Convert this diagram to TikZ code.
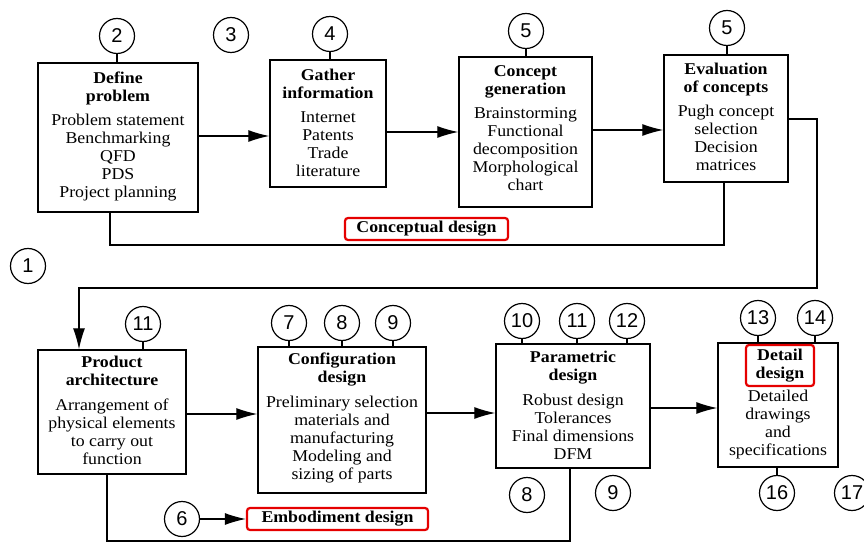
\documentclass[tikz,border=0pt]{standalone}
\usepackage{fontspec}
\setmainfont{Liberation Serif}[FakeStretch=1.08]
\setsansfont{Liberation Sans}
\usetikzlibrary{arrows.meta}
\begin{document}
\begin{tikzpicture}[x=1pt,y=-1pt,
  blk/.style={draw, line width=1.4pt, rectangle, inner sep=0pt},
  btxt/.style={anchor=north, align=center, inner sep=0pt, font=\fontsize{16.5}{18}\selectfont},
  num/.style={draw, circle, line width=1.2pt, minimum size=35pt, inner sep=0pt, font=\fontsize{20}{20}\sffamily},
  ln/.style={line width=1.2pt},
  arr/.style={line width=1.2pt, -{Latex[length=21pt,width=12pt]}},
  redbox/.style={draw=red!90!black, line width=2.2pt, rounded corners=3pt, align=center, inner sep=0pt, font=\fontsize{16.5}{18}\selectfont\bfseries}]
\useasboundingbox (0,0) rectangle (864,545);
% ---- top row boxes
\node[blk, minimum width=160pt, minimum height=149pt] (define) at (118,137.5) {};
\node[btxt] (definet) at (118,72) {\textbf{Define}\\\textbf{problem}\\[6pt]Problem statement\\Benchmarking\\QFD\\PDS\\Project planning};
\node[blk, minimum width=116pt, minimum height=127pt] (gather) at (328,123.5) {};
\node[btxt] (gathert) at (328,69) {\textbf{Gather}\\\textbf{information}\\[6pt]Internet\\Patents\\Trade\\literature};
\node[blk, minimum width=133pt, minimum height=150pt] (concept) at (525.5,132) {};
\node[btxt] (conceptt) at (525.5,65) {\textbf{Concept}\\\textbf{generation}\\[6pt]Brainstorming\\Functional\\decomposition\\Morphological\\chart};
\node[blk, minimum width=124pt, minimum height=127pt] (eval) at (726,118.5) {};
\node[btxt] (evalt) at (726,63) {\textbf{Evaluation}\\\textbf{of concepts}\\[6pt]Pugh concept\\selection\\Decision\\matrices};
% ---- bottom row boxes
\node[blk, minimum width=148pt, minimum height=124pt] (prod) at (112,412) {};
\node[btxt] (prodt) at (112,356) {\textbf{Product}\\\textbf{architecture}\\[7pt]Arrangement of\\physical elements\\to carry out\\function};
\node[blk, minimum width=168pt, minimum height=146pt] (config) at (342,420) {};
\node[btxt] (configt) at (342,353) {\textbf{Configuration}\\\textbf{design}\\[7pt]Preliminary selection\\materials and\\manufacturing\\Modeling and\\sizing of parts};
\node[blk, minimum width=154pt, minimum height=124pt] (param) at (573,406) {};
\node[btxt] (paramt) at (573,351) {\textbf{Parametric}\\\textbf{design}\\[7pt]Robust design\\Tolerances\\Final dimensions\\DFM};
\node[blk, minimum width=120pt, minimum height=124pt] (detail) at (778,405) {};
\node[redbox, minimum width=68pt, minimum height=41pt] (detailt) at (780,365.5) {Detail\\design};
\node[btxt] (detailb) at (778,390) {Detailed\\drawings\\and\\specifications};
% ---- labels
\node[redbox, minimum width=163pt, minimum height=22pt] (concl) at (426.5,229) {Conceptual design};
\node[redbox, minimum width=181pt, minimum height=22pt] (embl) at (337.5,519) {Embodiment design};
% ---- numbered circles
\node[num] (c1) at (28,266) {1};
\node[num] (c2) at (117,36) {2};
\node[num] (c3) at (231,35) {3};
\node[num] (c4) at (330,34) {4};
\node[num] (c5a) at (526,31) {5};
\node[num] (c5b) at (727,28) {5};
\node[num] (c11a) at (143,324) {11};
\node[num] (c7) at (289,323) {7};
\node[num] (c8a) at (342,323) {8};
\node[num] (c9a) at (393,323) {9};
\node[num] (c10) at (522,321) {10};
\node[num] (c11b) at (577,321) {11};
\node[num] (c12) at (627,321) {12};
\node[num] (c13) at (758,318) {13};
\node[num] (c14) at (815,318) {14};
\node[num] (c8b) at (527,495) {8};
\node[num] (c9b) at (613,493) {9};
\node[num] (c16) at (777,493) {16};
\node[num] (c17) at (852,493) {17};
\node[num] (c6) at (182,519) {6};
% ---- circle ticks
\foreach \c/\b in {c2/define, c4/gather, c5a/concept, c5b/eval, c11a/prod, c7/config, c8a/config, c9a/config, c10/param, c11b/param, c12/param, c13/detail, c14/detail}
  \draw[ln] (\c.south) -- (\c.south |- \b.north);
\draw[ln] (detail.south -| c16) -- (c16.north);
% ---- arrows
\draw[arr] (define.east |- 0,136) -- (gather.west |- 0,136);
\draw[arr] (gather.east |- 0,132) -- (concept.west |- 0,132);
\draw[arr] (concept.east |- 0,130) -- (eval.west |- 0,130);
\draw[arr] (prod.east |- 0,414) -- (config.west |- 0,414);
\draw[arr] (config.east |- 0,413) -- (param.west |- 0,413);
\draw[arr] (param.east |- 0,408) -- (detail.west |- 0,408);
\draw[arr] (c6.east) -- (embl.west |- c6.east);
% ---- feedback lines
\draw[ln] (eval.south -| 724,0) -- (724,245) -- (110,245) -- (define.south -| 110,0);
\draw[arr] (eval.east |- 0,119) -- (817,119) -- (817,288) -- (79,288) -- (prod.north -| 79,0);
\draw[ln] (prod.south -| 107,0) -- (107,541) -- (570,541) -- (param.south -| 570,0);
\end{tikzpicture}
\end{document}
